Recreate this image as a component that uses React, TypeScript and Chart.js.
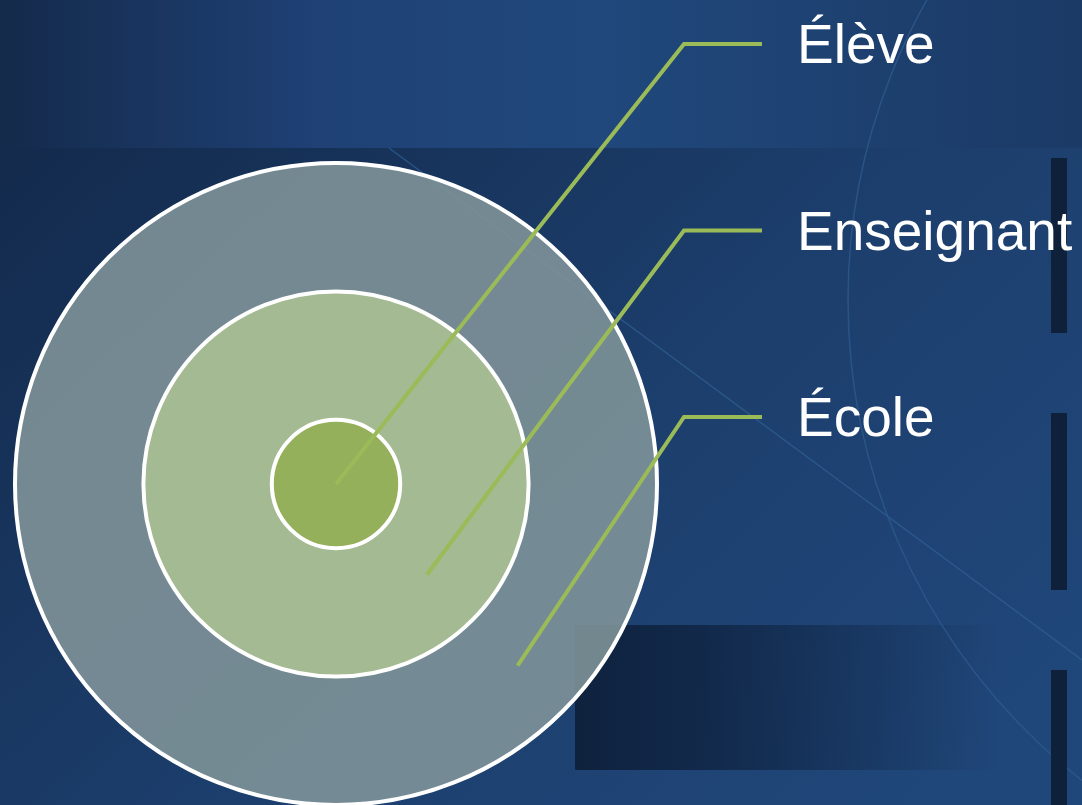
import React, { useEffect, useRef } from "react";
import { Chart, registerables } from "chart.js";

Chart.register(...registerables);

// Levels from the centre outwards
const levels = ["Élève", "Enseignant", "École"];
// Relative outer radius of each level's circle
const outerRadii = [1, 3, 5];
const ringColors = ["rgba(149,176,90,1)", "rgba(164,186,146,1)", "rgba(126,146,152,0.9)"];
const calloutColor = "#9bbb59";

const W = 1082;
const H = 805;

const backgroundPlugin = {
  id: "slideBackground",
  beforeDraw(chart: any) {
    const ctx: CanvasRenderingContext2D = chart.ctx;
    ctx.save();
    const g = ctx.createLinearGradient(0, 148, 760, 960);
    g.addColorStop(0, "#132a4c");
    g.addColorStop(0.55, "#1c3e6c");
    g.addColorStop(1, "#20477a");
    ctx.fillStyle = g;
    ctx.fillRect(0, 0, W, H);
    const t = ctx.createLinearGradient(0, 0, W, 0);
    t.addColorStop(0, "#142a4b");
    t.addColorStop(0.3, "#1f4176");
    t.addColorStop(0.55, "#20487c");
    t.addColorStop(1, "#1b3a66");
    ctx.fillStyle = t;
    ctx.fillRect(0, 0, W, 148);
    const r = ctx.createLinearGradient(575, 0, 1000, 0);
    r.addColorStop(0, "rgba(14,33,60,0.97)");
    r.addColorStop(0.3, "rgba(16,38,70,0.9)");
    r.addColorStop(1, "rgba(16,38,70,0)");
    ctx.fillStyle = r;
    ctx.fillRect(575, 625, 425, 145);
    ctx.strokeStyle = "rgba(48,92,145,0.8)";
    ctx.lineWidth = 1.5;
    ctx.beginPath();
    ctx.moveTo(389, 148);
    ctx.lineTo(1082, 660);
    ctx.stroke();
    ctx.strokeStyle = "rgba(48,92,145,0.7)";
    ctx.lineWidth = 1.5;
    ctx.beginPath();
    ctx.arc(1458, 300, 610, Math.PI * 0.62, Math.PI * 1.35);
    ctx.stroke();
    ctx.fillStyle = "#0f203b";
    ctx.fillRect(1051, 158, 16, 175);
    ctx.fillRect(1051, 413, 16, 177);
    ctx.fillRect(1051, 670, 16, 135);
    ctx.restore();
  },
};

const ringOutlinePlugin = {
  id: "ringOutlines",
  afterDatasetsDraw(chart: any) {
    const ctx: CanvasRenderingContext2D = chart.ctx;
    ctx.save();
    ctx.strokeStyle = "#ffffff";
    ctx.lineWidth = 4;
    chart.data.datasets.forEach((_: any, d: number) => {
      const arc = chart.getDatasetMeta(d).data[0];
      const p = arc.getProps(["x", "y", "outerRadius"]);
      ctx.beginPath();
      ctx.arc(p.x, p.y, p.outerRadius, 0, Math.PI * 2);
      ctx.stroke();
    });
    ctx.restore();
  },
};

const calloutPlugin = {
  id: "callouts",
  afterDatasetsDraw(chart: any) {
    const ctx: CanvasRenderingContext2D = chart.ctx;
    const n = chart.data.datasets.length;
    const area = chart.chartArea;
    const elbowX = area.right + 12;
    const endX = elbowX + 78;
    const textX = elbowX + 113;
    ctx.save();
    levels.forEach((name, i) => {
      const meta = chart.getDatasetMeta(n - 1 - i);
      const arc = meta.data[0];
      const p = arc.getProps(["x", "y", "innerRadius", "outerRadius", "startAngle", "endAngle"]);
      let sx = p.x;
      let sy = p.y;
      if (p.innerRadius > 0) {
        const a = (p.startAngle + p.endAngle) / 2;
        const rr = (p.innerRadius + p.outerRadius) / 2;
        sx = p.x + Math.cos(a) * rr;
        sy = p.y + Math.sin(a) * rr;
      }
      const ey = 44 + i * 186.5;
      ctx.strokeStyle = calloutColor;
      ctx.lineWidth = 4;
      ctx.lineJoin = "miter";
      ctx.beginPath();
      ctx.moveTo(sx, sy);
      ctx.lineTo(elbowX, ey);
      ctx.lineTo(endX, ey);
      ctx.stroke();
      ctx.fillStyle = "#ffffff";
      ctx.font = '55px "Liberation Sans", Arial, sans-serif';
      ctx.textAlign = "left";
      ctx.textBaseline = "alphabetic";
      ctx.fillText(name, textX, ey + 19);
    });
    ctx.restore();
  },
};

export default function App() {
  const ref = useRef<HTMLCanvasElement>(null);
  useEffect(() => {
    document.body.style.margin = "0";
    const canvas = ref.current;
    if (!canvas) return;
    const datasets = levels
      .map((name, i) => ({
        label: name,
        data: [1],
        weight: outerRadii[i] - (i > 0 ? outerRadii[i - 1] : 0),
        backgroundColor: ringColors[i],
        borderWidth: 0,
        hoverOffset: 0,
      }))
      .reverse();
    const chart = new Chart(canvas, {
      type: "doughnut",
      data: { labels: ["niveau"], datasets },
      options: {
        responsive: false,
        animation: false,
        events: [],
        cutout: 0,
        radius: 321,
        rotation: -45,
        layout: { padding: { left: 0, right: 410, top: 163, bottom: 0 } },
        plugins: { legend: { display: false }, tooltip: { enabled: false } },
      } as any,
      plugins: [backgroundPlugin, ringOutlinePlugin, calloutPlugin],
    });
    return () => chart.destroy();
  }, []);
  return (
    <div style={{ width: W, height: H, overflow: "hidden" }}>
      <canvas ref={ref} width={W} height={H} style={{ display: "block", width: W, height: H }} />
    </div>
  );
}
